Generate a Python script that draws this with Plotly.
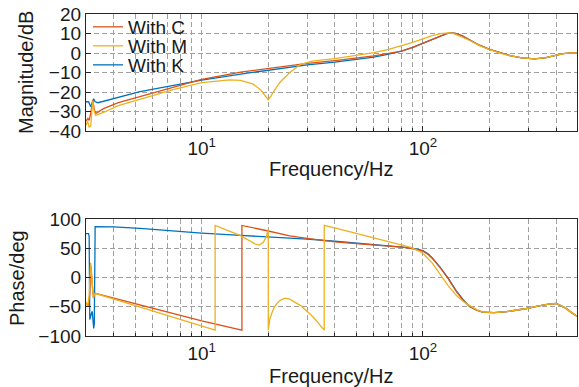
import plotly.graph_objects as go

# ---------------- data ----------------
# Magnitude (dB)
freq_C_mag = [3.0, 3.06, 3.1, 3.15, 3.22, 3.27, 3.32, 3.6, 4.2, 5.26, 7.5, 10, 15, 20, 25, 30, 40, 50, 60, 70, 80, 90,
              100, 110, 120, 128, 135, 142, 150, 163, 180, 200, 225, 250, 280, 320, 360, 390, 430, 470, 500]
mag_C = [-35, -33.5, -34.5, -31, -24, -29, -31, -28.5, -25.5, -22.3, -17.2, -13.5, -9.8, -7.8, -6.4, -5.3, -3.9, -2.7,
         -1.5, -0.2, 1.0, 2.9, 5.0, 7.2, 9.0, 9.9, 10.3, 9.9, 8.9, 6.7, 4.0, 1.9, -0.1, -1.5, -2.5, -3.0, -2.4, -1.5,
         -0.3, 0.1, 0.0]

freq_M_mag = [3.0, 3.05, 3.1, 3.15, 3.22, 3.27, 3.32, 3.6, 4.2, 5.26, 7.5, 10, 12, 13.4, 15, 17.1, 18.5, 19.5, 20,
              20.6, 21.2, 22.6, 25, 28, 32, 40, 50, 60, 70, 80, 90, 100, 110, 120, 130, 137, 145, 155, 163, 180,
              200, 225, 250, 280, 320, 360, 390, 430, 470, 500]
mag_M = [-37, -35, -38, -37.5, -24.5, -30, -32, -30.5, -27, -23.8, -18.7, -15.2, -14.2, -13.8, -14.0, -16.0, -19.0,
         -22.5, -24.0, -22.0, -19.5, -15.0, -10.0, -5.8, -4.0, -2.9, -1.4, 0.2, 1.8, 3.6, 5.5, 7.3, 8.9, 9.9, 10.3,
         10.0, 8.9, 7.5, 6.4, 3.8, 1.7, -0.2, -1.5, -2.5, -3.0, -2.4, -1.5, -0.3, 0.1, 0.0]

freq_K_mag = [3.0, 3.08, 3.15, 3.2, 3.25, 3.3, 3.4, 5.26, 7.5, 10, 15, 20, 25, 30, 40, 50, 60, 70, 80, 90,
              100, 110, 120, 128, 135, 142, 150, 163, 180, 200, 225, 250, 280, 320, 360, 390, 430, 470, 500]
mag_K = [-25, -25, -27.5, -25, -23.5, -25, -25.5, -19.8, -16.5, -13.9, -10.8, -8.7, -7.3, -6.1, -4.7, -3.3, -2.1,
         -0.6, 1.0, 2.9, 5.0, 7.2, 9.0, 9.9, 10.3, 9.9, 8.9, 6.7, 4.0, 1.9, -0.1, -1.5, -2.5, -3.0, -2.4, -1.5,
         -0.3, 0.1, 0.0]

# Phase (deg)
freq_C_ph = [3.0, 3.08, 3.12, 3.16, 3.2, 3.24, 3.3, 10, 15.2, 15.2, 20, 25, 30, 40, 50, 60, 70, 80, 88, 95, 100,
             105, 110, 119, 130, 141, 152, 163, 175, 187, 210, 239, 265, 294, 330, 370, 400, 440, 470, 500]
ph_C = [-45, -47, -30, 20, -10, -35, -27, -74, -90, 89, 79.5, 71, 67, 61, 58, 56, 54, 52, 50, 47.5, 45,
        40, 33, 18, -2, -23, -39, -50, -56, -59, -60, -58.5, -56, -53, -49, -45.5, -44.5, -52, -60, -67]

freq_M_ph = [3.0, 3.05, 3.1, 3.15, 3.2, 3.24, 3.27, 3.3, 11.5, 11.5, 14.9, 17.5, 18.2, 19.0, 19.6, 20.0, 20.0,
             20.3, 20.7, 21.2, 21.8, 22.6, 23.8, 25, 28, 32, 35.8, 35.8, 50, 70, 88, 95, 100, 110, 119, 130, 141,
             152, 163, 175, 187, 210, 239, 265, 294, 330, 370, 400, 440, 470, 500]
ph_M = [-42, -50, -30, 25, -10, -35, -30, -27, -90, 89, 72, 57, 55.5, 60, 70, 82, -90,
        -72, -62, -52, -45, -39, -35.5, -37, -48, -68, -90, 89, 75.5, 61, 51.5, 46, 41, 25, 7, -14, -30,
        -41, -48, -55, -59, -60, -58.5, -56, -53, -49, -45.5, -44.5, -52, -60, -67]

freq_K_ph = [3.0, 3.08, 3.1, 3.12, 3.17, 3.2, 3.25, 3.27, 3.3, 4, 5.26, 7, 10, 15, 20, 25, 30, 40, 50, 60, 70, 80,
             88, 95, 100, 105, 110, 119, 130, 141, 152, 163, 175, 187, 210, 239, 265, 294, 330, 370, 400, 440, 470,
             500]
ph_K = [75, 75, 70, -72, -62, -58, -87, -80, 87, 86.5, 84, 80, 76, 72, 69.5, 67.5, 65.5, 62, 59, 56.5, 54.5, 52.5,
        50.5, 48, 46, 41, 34, 18.5, -1, -22, -38, -50, -56, -59.5, -60, -58.5, -56, -53, -49, -45.5, -44.5, -52,
        -60, -67]

mag_ticks = [-40, -30, -20, -10, 0, 10, 20]
phase_ticks = [-100, -50, 0, 50, 100]
major_freqs = [10, 100]
major_labels = ["10<sup>1</sup>", "10<sup>2</sup>"]
minor_freqs = [4, 5, 6, 7, 8, 9, 20, 30, 40, 50, 60, 70, 80, 90, 200, 300, 400]

colors = {"With C": "#D95319", "With M": "#EDB120", "With K": "#0072BD"}

# ---------------- figure ----------------
W, H = 579, 387
FONT = "Liberation Sans, Arial, sans-serif"
FS_TICK = 19
FS_TEXT = 20
FS_LEG = 19
TXT = "#1a1a1a"

fig = go.Figure()

mag_series = {"With K": (freq_K_mag, mag_K), "With C": (freq_C_mag, mag_C), "With M": (freq_M_mag, mag_M)}
ph_series = {"With K": (freq_K_ph, ph_K), "With C": (freq_C_ph, ph_C), "With M": (freq_M_ph, ph_M)}
legend_of = {"With C": "legend", "With M": "legend2", "With K": "legend3"}

for nm in ["With K", "With C", "With M"]:
    fx, fy = mag_series[nm]
    fig.add_trace(go.Scatter(x=fx, y=fy, mode="lines", name=nm, line=dict(color=colors[nm], width=1.3),
                             xaxis="x", yaxis="y", legend=legend_of[nm], showlegend=True))
for nm in ["With K", "With C", "With M"]:
    fx, fy = ph_series[nm]
    fig.add_trace(go.Scatter(x=fx, y=fy, mode="lines", name=nm, line=dict(color=colors[nm], width=1.3),
                             xaxis="x2", yaxis="y2", showlegend=False))

GRIDC = "#a0a0a0"
DASH = "5px,3px"
grid = dict(gridcolor=GRIDC, griddash=DASH, gridwidth=1)
axline = dict(showline=True, linecolor="#262626", linewidth=1.2, mirror=True, zeroline=False)
tickfont = dict(family=FONT, size=FS_TICK, color=TXT)
xcommon = dict(type="log", range=[0.4771, 2.6964], tickmode="array", tickvals=major_freqs, ticktext=major_labels,
               ticks="inside", ticklen=5, tickcolor="#262626", showgrid=True, automargin=False,
               minor=dict(tickmode="array", tickvals=minor_freqs, showgrid=True, gridcolor=GRIDC,
                          griddash=DASH, ticks="inside", ticklen=3, tickcolor="#262626"),
               tickfont=tickfont, **grid, **axline)
xd = [86 / W, 577 / W]

fig.update_layout(
    width=W, height=H, autosize=False,
    margin=dict(l=0, r=0, t=0, b=0),
    paper_bgcolor="white", plot_bgcolor="white",
    font=dict(family=FONT, size=FS_TEXT, color=TXT),
    xaxis=dict(domain=xd, anchor="y", **xcommon),
    xaxis2=dict(domain=xd, anchor="y2", **xcommon),
    yaxis=dict(domain=[1 - 131 / H, 1 - 14 / H], anchor="x", range=[-40, 20], tickmode="array", tickvals=mag_ticks,
               ticks="inside", ticklen=5, tickcolor="#262626", showgrid=True, automargin=False,
               tickfont=tickfont, **grid, **axline),
    yaxis2=dict(domain=[1 - 336 / H, 1 - 219 / H], anchor="x2", range=[-100, 100], tickmode="array",
                tickvals=phase_ticks, ticks="inside", ticklen=5, tickcolor="#262626", showgrid=True,
                automargin=False, tickfont=tickfont, **grid, **axline),
    showlegend=True,
)

leg_common = dict(x=88 / W, xanchor="left", yanchor="middle", bgcolor="rgba(0,0,0,0)", borderwidth=0,
                  font=dict(family=FONT, size=FS_LEG, color=TXT))
fig.update_layout(
    legend=dict(y=1 - 27 / H, **leg_common),
    legend2=dict(y=1 - 46 / H, **leg_common),
    legend3=dict(y=1 - 65 / H, **leg_common),
)

ann = dict(xref="paper", yref="paper", showarrow=False, font=dict(family=FONT, size=FS_TEXT, color=TXT),
           xanchor="center", yanchor="middle")
fig.add_annotation(text="Magnitude/dB", x=25.5 / W, y=1 - 72.5 / H, textangle=-90, **ann)
fig.add_annotation(text="Frequency/Hz", x=331.5 / W, y=1 - 169 / H, **ann)
fig.add_annotation(text="Phase/deg", x=17 / W, y=1 - 278 / H, textangle=-90, **ann)
fig.add_annotation(text="Frequency/Hz", x=331.5 / W, y=1 - 376 / H, **ann)

fig.write_html("out.html", config={"displayModeBar": False},
               post_script="document.body.style.margin='0';document.body.style.overflow='hidden';")
